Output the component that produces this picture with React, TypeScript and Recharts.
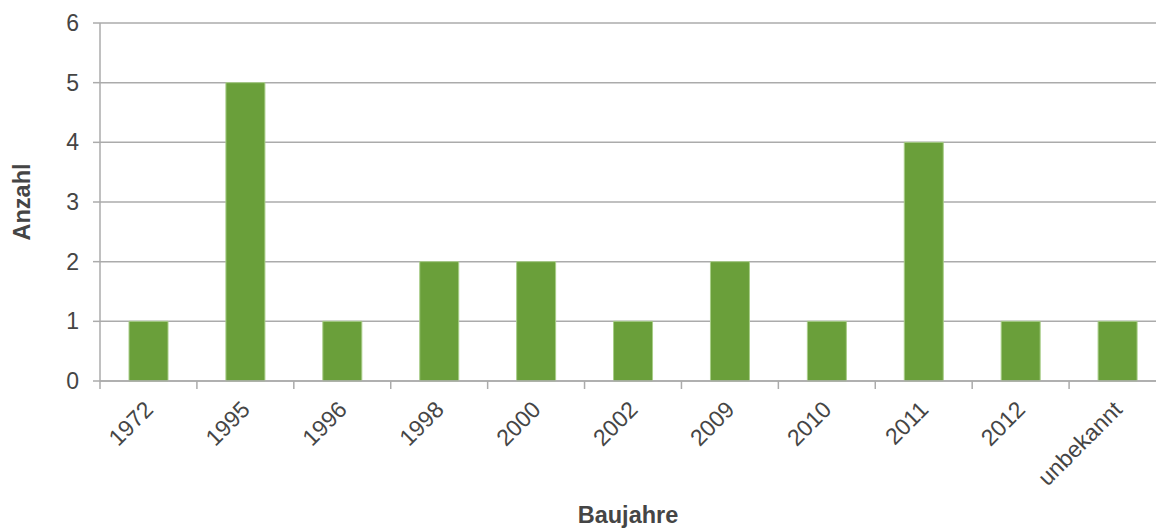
import React from 'react';
import { BarChart, Bar, XAxis, YAxis, CartesianGrid } from 'recharts';

const categories = ['1972', '1995', '1996', '1998', '2000', '2002', '2009', '2010', '2011', '2012', 'unbekannt'];
const counts = [1, 5, 1, 2, 2, 1, 2, 1, 4, 1, 1];
const yTicks = [0, 1, 2, 3, 4, 5, 6];

const data = categories.map((c, i) => ({ name: c, value: counts[i] }));

const VIEW_W = 1156;
const W = 1166;
const H = 530;
const M = { top: 23, right: 0, bottom: 0, left: 0 };
const Y_W = 100;
const X_H = 149;
const PLOT_W = W - Y_W - M.right;
const BAND = PLOT_W / categories.length;

const TEXT = '#454545';
const GRID = '#ababab';
const FONT = '"Liberation Sans", Arial, sans-serif';
const FS = 23;

const XTick = (props: any) => {
  const { x, y, payload } = props;
  const axisY = y - 10;
  const bx = x - BAND / 2;
  return (
    <g>
      <line x1={bx} y1={axisY} x2={bx} y2={axisY + 8} stroke={GRID} strokeWidth={1.5} />
      <text
        x={x + 6}
        y={y + 20}
        textAnchor="end"
        fill={TEXT}
        fontSize={FS}
        fontFamily={FONT}
        transform={`rotate(-45, ${x + 6}, ${y + 20})`}
      >
        {payload.value}
      </text>
    </g>
  );
};

export default function App() {
  return (
    <div style={{ position: 'absolute', left: 0, top: 0, width: VIEW_W, height: H, overflow: 'hidden', background: '#fff' }}>
      <BarChart width={W} height={H} data={data} margin={M} barCategoryGap={0}>
        <CartesianGrid horizontal vertical={false} stroke={GRID} strokeWidth={1.5} />
        <XAxis
          dataKey="name"
          height={X_H}
          interval={0}
          tickSize={8}
          tickMargin={2}
          tickLine={false}
          axisLine={{ stroke: GRID, strokeWidth: 1.5 }}
          tick={<XTick />}
          label={{
            value: 'Baujahre',
            position: 'insideBottom',
            offset: 7,
            dx: -5,
            fill: TEXT,
            fontSize: 23.5,
            fontWeight: 'bold',
            fontFamily: FONT,
          }}
        />
        <YAxis
          width={Y_W}
          domain={[0, 6]}
          ticks={yTicks}
          interval={0}
          tickSize={7}
          tickMargin={14}
          axisLine={{ stroke: GRID, strokeWidth: 1.5 }}
          tickLine={{ stroke: GRID, strokeWidth: 1.5 }}
          tick={{ fill: TEXT, fontSize: FS, fontFamily: FONT }}
          label={{
            value: 'Anzahl',
            angle: -90,
            position: 'center',
            dx: -28,
            fill: TEXT,
            fontSize: 23.5,
            fontWeight: 'bold',
            fontFamily: FONT,
          }}
        />
        <Bar
          dataKey="value"
          fill="#6a9f3a"
          stroke="#a8cd88"
          strokeWidth={1}
          barSize={39}
          isAnimationActive={false}
        />
      </BarChart>
    </div>
  );
}
